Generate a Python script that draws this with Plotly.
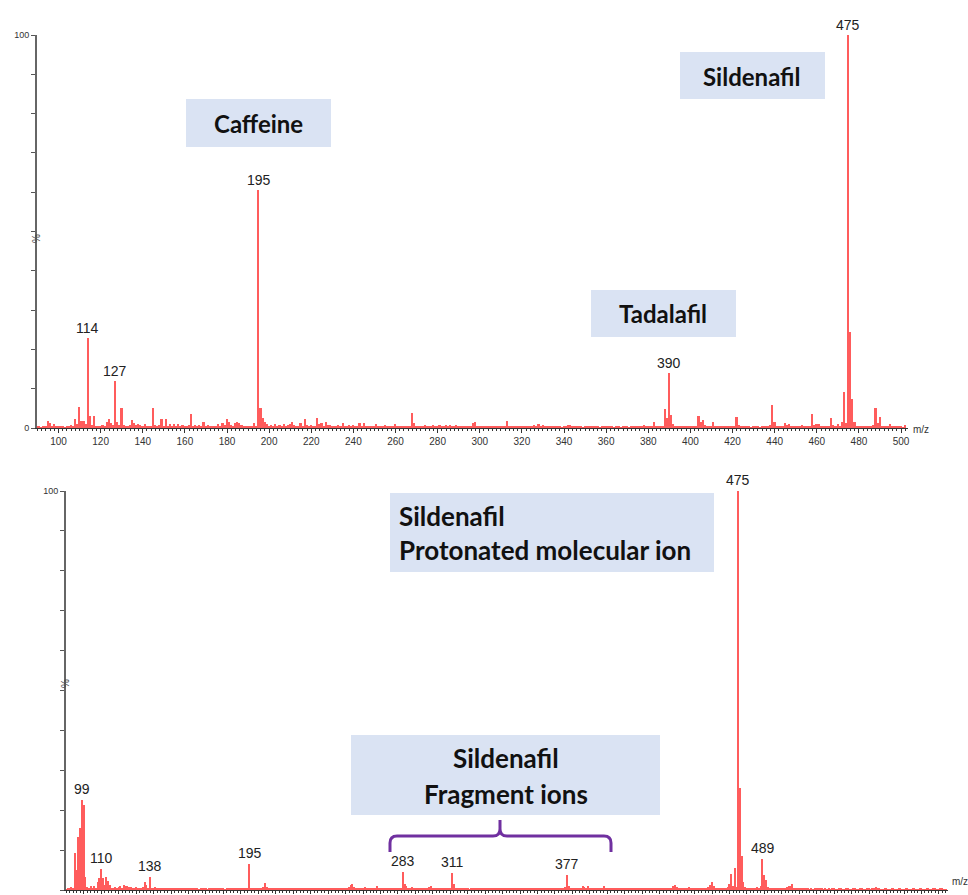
import plotly.graph_objects as go

W, H = 968, 895

# ---------------- data ----------------
# Top spectrum: relative intensity (%) for each nominal m/z starting at 90
top_start = 90
top_pct = [
    0.4, 0.3, 0.2, 0.4, 0.6, 1.7, 1.2, 0.6, 1.1, 0.4,      # 90
    0.5, 0.3, 0.4, 0.2, 0.3, 0.4, 0.8, 0.6, 2.3, 0.9,      # 100
    5.4, 1.8, 1.8, 0.9, 23.0, 3.0, 0.8, 3.0, 0.6, 0.5,     # 110
    0.4, 0.8, 0.6, 1.5, 2.3, 1.3, 0.7, 12.0, 1.5, 0.8,     # 120
    5.2, 0.8, 0.6, 0.5, 0.7, 2.0, 1.3, 0.7, 0.9, 0.8,      # 130
    0.6, 1.0, 0.5, 0.6, 0.4, 5.0, 0.8, 0.6, 0.7, 2.2,      # 140
    0.5, 2.2, 0.6, 1.0, 0.5, 0.9, 0.6, 0.9, 0.5, 0.8,      # 150
    0.6, 0.5, 0.7, 3.5, 0.5, 0.8, 0.6, 0.7, 0.5, 1.5,      # 160
    0.4, 0.8, 0.5, 0.6, 0.4, 0.6, 1.0, 0.6, 1.3, 0.8,      # 170
    2.2, 1.6, 0.8, 0.6, 1.2, 1.5, 1.3, 0.7, 0.5, 0.6,      # 180
    0.5, 0.6, 0.5, 1.3, 0.4, 60.5, 5.0, 2.5, 1.5, 0.9,     # 190
    0.6, 0.8, 0.5, 0.9, 0.6, 0.8, 0.5, 1.0, 0.6, 0.8,      # 200
    0.9, 1.5, 0.8, 0.6, 0.5, 1.3, 0.6, 2.3, 0.7, 0.5,      # 210
    0.8, 0.6, 0.5, 2.6, 0.9, 1.2, 0.6, 1.6, 0.7, 0.8,      # 220
    0.5, 0.6, 0.4, 0.7, 0.5, 1.2, 0.6, 0.5, 0.8, 0.6,      # 230
    0.7, 0.5, 0.4, 1.3, 0.6, 1.3, 0.5, 0.4, 0.6, 0.5,      # 240
    0.4, 1.0, 0.5, 0.6, 0.4, 0.7, 0.5, 0.6, 0.4, 0.5,      # 250
    1.0, 0.6, 0.5, 0.4, 0.6, 0.5, 0.4, 0.6, 3.9, 1.2,      # 260
    0.6, 0.5, 0.4, 0.6, 0.8, 0.5, 0.6, 0.5, 0.7, 0.6,      # 270
    0.5, 0.8, 0.5, 0.6, 0.7, 0.5, 0.8, 0.4, 0.5, 0.8,      # 280
    0.4, 0.5, 0.3, 0.4, 0.5, 0.4, 0.6, 1.2, 1.5, 0.6,      # 290
    0.4, 0.6, 0.5, 0.4, 0.6, 0.5, 0.4, 0.6, 0.5, 0.4,      # 300
    0.5, 0.4, 0.6, 1.7, 0.5, 0.4, 0.5, 0.3, 0.4, 0.3,      # 310
    0.4, 0.3, 0.4, 0.3, 0.5, 0.4, 0.8, 0.6, 0.9, 0.5,      # 320
    0.8, 0.4, 0.5, 0.3, 0.4, 0.3, 0.4, 0.3, 0.3, 0.2,      # 330
    0.4, 0.6, 0.8, 0.7, 0.5, 0.4, 0.3, 0.4, 0.3, 0.2,      # 340
    0.4, 0.3, 0.4, 0.5, 0.6, 0.4, 0.3, 0.2, 0.3, 0.4,      # 350
    0.6, 0.4, 0.3, 0.4, 0.2, 0.3, 0.4, 0.2, 0.3, 0.4,      # 360
    0.3, 0.2, 0.4, 0.3, 0.4, 0.5, 0.4, 0.6, 0.8, 0.4,      # 370
    0.5, 0.3, 0.4, 1.5, 0.5, 0.3, 0.4, 0.6, 4.8, 2.5,      # 380
    14.0, 3.2, 1.0, 0.5, 0.4, 0.3, 0.4, 0.3, 0.4, 0.3,     # 390
    0.4, 0.3, 0.4, 0.5, 3.0, 1.5, 2.0, 0.7, 0.4, 0.5,      # 400
    0.4, 1.5, 0.5, 0.4, 0.3, 0.4, 0.3, 0.4, 0.3, 0.4,      # 410
    0.5, 0.6, 2.8, 0.8, 0.4, 0.3, 0.4, 0.3, 0.4, 0.2,      # 420
    0.3, 0.4, 0.3, 0.2, 0.4, 0.3, 0.4, 0.5, 0.8, 5.8,      # 430
    1.5, 0.5, 0.4, 0.3, 0.6, 1.3, 0.7, 1.0, 0.4, 0.5,      # 440
    0.3, 0.4, 0.5, 0.7, 0.4, 0.3, 0.4, 0.5, 3.5, 0.7,      # 450
    1.0, 1.1, 0.6, 0.4, 0.5, 0.4, 0.5, 2.5, 0.8, 0.4,      # 460
    1.0, 0.6, 1.5, 9.2, 1.2, 100.0, 24.5, 7.5, 1.5, 0.6,   # 470
    0.4, 0.3, 0.4, 0.3, 0.4, 0.5, 0.6, 0.8, 5.2, 1.3,      # 480
    2.7, 0.6, 0.4, 0.5, 0.3, 1.0, 0.4, 0.5, 0.3, 0.4,      # 490
    0.3, 0.2, 0.8,                                          # 500
]
top_mz = list(range(top_start, top_start + len(top_pct)))
top_labels = [114, 127, 195, 390, 475]
top_xticks = [100, 120, 140, 160, 180, 200, 220, 240, 260, 280, 300,
              320, 340, 360, 380, 400, 420, 440, 460, 480, 500]

# Bottom spectrum
bot_start = 90
bot_pct = [
    0.2, 0.6, 0.3, 0.8, 0.5, 9.2, 5.0, 13.3, 15.5, 22.5,   # 90
    21.3, 3.3, 0.8, 0.4, 0.9, 0.5, 1.0, 0.6, 2.0, 3.0,     # 100
    5.2, 3.0, 1.2, 3.2, 2.3, 1.3, 0.6, 0.4, 0.8, 0.5,      # 110
    0.7, 0.9, 0.6, 1.2, 1.0, 1.1, 0.7, 0.8, 0.6, 0.4,      # 120
    0.7, 0.5, 0.4, 0.6, 0.8, 2.0, 1.2, 0.6, 3.2, 0.5,      # 130
    0.4, 0.7, 0.3, 0.5, 0.4, 0.6, 0.3, 0.5, 0.4, 0.3,      # 140
    0.6, 0.4, 0.3, 0.5, 0.3, 0.4, 0.3, 0.5, 0.3, 0.4,      # 150
    0.3, 0.4, 0.3, 0.5, 0.3, 0.4, 0.2, 0.4, 0.3, 0.4,      # 160
    0.3, 0.2, 0.4, 0.3, 0.4, 0.3, 0.4, 0.3, 0.4, 0.3,      # 170
    0.4, 0.2, 0.3, 0.4, 0.3, 0.4, 0.3, 0.4, 0.3, 0.4,      # 180
    0.3, 0.4, 0.3, 0.4, 0.5, 6.5, 0.6, 0.4, 0.3, 0.4,      # 190
    0.3, 0.4, 0.5, 0.8, 1.8, 0.7, 0.4, 0.3, 0.4, 0.5,      # 200
    0.3, 0.4, 0.3, 0.4, 0.3, 0.4, 0.3, 0.4, 0.5, 0.3,      # 210
    0.4, 0.3, 0.4, 0.3, 0.4, 0.3, 0.4, 0.5, 0.3, 0.4,      # 220
    0.5, 0.6, 0.5, 0.4, 0.5, 0.4, 0.3, 0.4, 0.3, 0.4,      # 230
    0.3, 0.4, 0.3, 0.4, 0.3, 0.4, 0.3, 0.4, 0.3, 0.4,      # 240
    0.3, 0.4, 0.8, 1.2, 1.6, 0.8, 0.4, 0.3, 0.4, 0.3,      # 250
    0.6, 0.8, 0.5, 0.4, 0.6, 0.5, 0.4, 0.6, 1.1, 0.5,      # 260
    0.3, 0.4, 0.3, 0.4, 0.3, 0.4, 0.3, 0.4, 0.3, 0.4,      # 270
    0.3, 0.4, 0.5, 4.6, 1.5, 1.0, 0.5, 0.6, 0.8, 0.4,      # 280
    0.3, 0.4, 0.3, 0.4, 0.3, 0.4, 0.3, 0.5, 0.7, 1.1,      # 290
    0.5, 0.4, 0.3, 0.4, 0.3, 0.4, 0.3, 0.4, 0.3, 0.4,      # 300
    0.6, 4.2, 1.5, 0.6, 0.4, 0.3, 0.4, 0.3, 0.4, 0.3,      # 310
    0.4, 0.2, 0.3, 0.4, 0.3, 0.4, 0.3, 0.4, 0.3, 0.4,      # 320
    0.3, 0.4, 0.3, 0.4, 0.3, 0.4, 0.3, 0.4, 0.3, 0.4,      # 330
    0.3, 0.4, 0.5, 0.4, 0.3, 0.4, 0.3, 0.4, 0.3, 0.4,      # 340
    0.3, 0.4, 0.3, 0.4, 0.3, 0.4, 0.3, 0.4, 0.3, 0.4,      # 350
    0.5, 0.4, 0.3, 0.4, 0.3, 0.4, 0.3, 0.4, 0.3, 0.4,      # 360
    0.3, 0.4, 0.3, 0.4, 0.3, 0.5, 0.8, 3.8, 1.0, 0.4,      # 370
    0.3, 0.4, 0.3, 0.4, 0.6, 0.5, 1.0, 0.8, 0.5, 1.0,      # 380
    0.6, 0.4, 0.3, 0.4, 0.3, 0.4, 0.3, 0.5, 1.0, 0.6,      # 390
    0.4, 0.6, 0.4, 0.3, 0.4, 0.3, 0.4, 0.3, 0.4, 0.3,      # 400
    0.4, 0.3, 0.4, 0.3, 0.4, 0.3, 0.4, 0.3, 0.4, 0.3,      # 410
    0.4, 0.3, 0.4, 0.3, 0.4, 0.3, 0.4, 0.3, 0.4, 0.3,      # 420
    0.4, 0.3, 0.4, 0.3, 0.4, 0.3, 0.4, 0.5, 0.9, 1.3,      # 430
    0.7, 0.4, 0.3, 0.4, 0.3, 0.4, 0.5, 0.8, 0.5, 0.4,      # 440
    0.3, 0.4, 0.3, 0.4, 0.3, 0.4, 0.3, 0.6, 0.8, 1.2,      # 450
    2.0, 0.9, 0.4, 0.3, 0.4, 0.3, 0.4, 0.3, 0.5, 0.8,      # 460
    1.5, 4.0, 1.0, 5.4, 0.8, 100.0, 25.5, 8.5, 2.0, 0.8,   # 470
    0.4, 0.3, 0.4, 0.3, 0.4, 0.6, 0.8, 0.5, 1.0, 7.8,      # 480
    3.8, 2.5, 0.8, 0.4, 0.3, 0.4, 0.3, 0.4, 0.3, 0.4,      # 490
    0.3, 0.4, 0.5, 0.8, 1.0, 1.0, 1.5, 0.6, 0.3, 0.4,      # 500
    0.3, 0.4, 0.3, 0.4, 0.3, 0.3, 0.2, 0.3, 0.2, 0.4,      # 510
    0.3, 0.4, 0.5, 0.3, 0.2, 0.3, 0.2, 0.3, 0.2, 0.3,      # 520
    0.3, 0.2, 0.2, 0.3, 0.3, 0.2, 0.2, 0.3, 0.3, 0.2,      # 530
    0.2, 0.3, 0.3, 0.2, 0.2, 0.3, 0.3, 0.2, 0.2, 0.3,      # 540
    0.3, 0.2, 0.4, 0.5, 0.7, 0.4, 0.3, 0.2, 0.2, 0.3,      # 550
    0.3, 0.2, 0.2, 0.3, 0.3, 0.2, 0.2, 0.3, 0.3, 0.2,      # 560
    0.2, 0.3, 0.3, 0.2, 0.2, 0.3, 0.3, 0.2, 0.2, 0.3,      # 570
    0.3, 0.2, 0.2, 0.3, 0.3, 0.2, 0.2, 0.3, 0.3, 0.2,      # 580
    0.2, 0.3, 0.3, 0.2, 0.2,                                # 590
]
bot_mz = list(range(bot_start, bot_start + len(bot_pct)))
bot_labels = [99, 110, 138, 195, 283, 311, 377, 475, 489]

y_ticks = [0, 10, 20, 30, 40, 50, 60, 70, 80, 90, 100]
y_ticktext = ["0", "", "", "", "", "", "", "", "", "", "100"]

# ---------------- helpers (pixel -> paper) ----------------
def px(x):
    return x / W

def py(y):
    return 1 - y / H

BAR = "#ff5c5c"
fig = go.Figure()
fig.add_trace(go.Bar(x=top_mz, y=top_pct, width=0.8, marker_color=BAR,
                     marker_line_width=0, xaxis="x", yaxis="y", hoverinfo="x+y"))
fig.add_trace(go.Bar(x=bot_mz, y=bot_pct, width=0.8, marker_color=BAR,
                     marker_line_width=0, xaxis="x2", yaxis="y2", hoverinfo="x+y"))

tickfont = dict(family="Arial", size=10, color="#333")
yax = dict(range=[0, 100], tickvals=y_ticks, ticktext=y_ticktext, ticks="outside",
           ticklen=4, tickcolor="#555", showline=True, linecolor="#666", linewidth=2,
           showgrid=False, zeroline=False, tickfont=dict(family="Arial", size=9, color="#333"),
           fixedrange=True, automargin=False)

fig.update_layout(
    width=W, height=H, margin=dict(l=0, r=0, t=0, b=0, pad=0, autoexpand=False),
    paper_bgcolor="white", plot_bgcolor="white", showlegend=False,
    bargap=0,
    xaxis=dict(domain=[px(37), px(908)], anchor="y", range=[89.8, 503.3],
               tickvals=top_xticks, ticks="outside", ticklen=4, tickcolor="#333",
               showline=True, linecolor="#333", linewidth=1, showgrid=False,
               zeroline=False, tickfont=tickfont, automargin=False,
               minor=dict(tick0=0, dtick=2, ticks="outside", ticklen=2, tickcolor="#333")),
    yaxis=dict(domain=[py(428), py(35)], anchor="x", **yax),
    xaxis2=dict(domain=[px(66), px(948)], anchor="y2", range=[89.8, 595.2],
                tickvals=list(range(100, 600, 10)), ticks="outside", ticklen=3, tickcolor="#333",
                showticklabels=False, automargin=False,
                showline=True, linecolor="#333", linewidth=1, showgrid=False, zeroline=False,
                minor=dict(tick0=0, dtick=2, ticks="outside", ticklen=2, tickcolor="#333")),
    yaxis2=dict(domain=[py(890), py(491)], anchor="x2", **yax),
)

ann = []
lab_font = dict(family="Arial", size=14, color="#222")
for m in top_labels:
    ann.append(dict(x=m, y=top_pct[m - top_start], xref="x", yref="y", text=str(m),
                    showarrow=False, yanchor="bottom", yshift=0, font=lab_font))
for m in bot_labels:
    ann.append(dict(x=m, y=bot_pct[m - bot_start], xref="x2", yref="y2", text=str(m),
                    showarrow=False, yanchor="bottom", yshift=1, font=lab_font))

# axis unit labels
pct_font = dict(family="Arial", size=10, color="#444")
ann.append(dict(x=px(29), y=py(232), xref="paper", yref="paper", text="%", textangle=-90,
                showarrow=False, font=pct_font))
ann.append(dict(x=px(58), y=py(690), xref="paper", yref="paper", text="%", textangle=-90,
                showarrow=False, font=pct_font))
ann.append(dict(x=px(911), y=py(429), xref="paper", yref="paper", text="m/z", xanchor="left",
                showarrow=False, font=dict(family="Arial", size=10, color="#333")))
ann.append(dict(x=px(950), y=py(889), xref="paper", yref="paper", text="m/z", xanchor="left",
                showarrow=False, font=dict(family="Arial", size=10, color="#333")))

# text boxes
BOX = "#dae3f3"
shapes = []
boxes = [(186, 99, 331, 147), (680, 52, 825, 99), (591, 290, 736, 337),
         (390, 493, 714, 572), (351, 735, 660, 815)]
for x0, y0, x1, y1 in boxes:
    shapes.append(dict(type="rect", xref="paper", yref="paper", x0=px(x0), x1=px(x1),
                       y0=py(y1), y1=py(y0), fillcolor=BOX, line_width=0, layer="above"))

top_box_font = dict(family="Lato", size=24, color="#111")
bot_box_font = dict(family="Lato", size=26, color="#111")
texts = [
    ("Caffeine", 258, 124, "center", top_box_font),
    ("Sildenafil", 752, 76, "center", top_box_font),
    ("Tadalafil", 663, 314, "center", top_box_font),
    ("Sildenafil", 397, 516, "left", bot_box_font),
    ("Protonated molecular ion", 397, 550, "left", bot_box_font),
    ("Sildenafil", 506, 758, "center", bot_box_font),
    ("Fragment ions", 506, 794, "center", bot_box_font),
]
for t, x, y, a, f in texts:
    ann.append(dict(x=px(x), y=py(y), xref="paper", yref="paper", text="<b>" + t + "</b>",
                    xanchor=a, yanchor="middle", showarrow=False, font=f))

# purple brace
def P(x, y):
    return f"{px(x):.5f},{py(y):.5f}"

brace = (f"M {P(390, 852)} L {P(390, 843)} Q {P(390, 836)} {P(397, 836)} "
         f"L {P(493, 836)} Q {P(500, 836)} {P(500, 829)} L {P(500, 820)} "
         f"M {P(500, 829)} Q {P(500, 836)} {P(507, 836)} "
         f"L {P(604, 836)} Q {P(611, 836)} {P(611, 843)} L {P(611, 852)}")
shapes.append(dict(type="path", xref="paper", yref="paper", path=brace,
                   line=dict(color="#7030a0", width=3)))

fig.update_layout(annotations=ann, shapes=shapes)

page_fix = (
    "var d=document.documentElement,b=document.body;"
    "d.style.margin='0';d.style.padding='0';d.style.overflow='hidden';"
    "b.style.margin='0';b.style.padding='0';b.style.overflow='hidden';"
)
fig.write_html("out.html", config={"displayModeBar": False}, post_script=page_fix)
